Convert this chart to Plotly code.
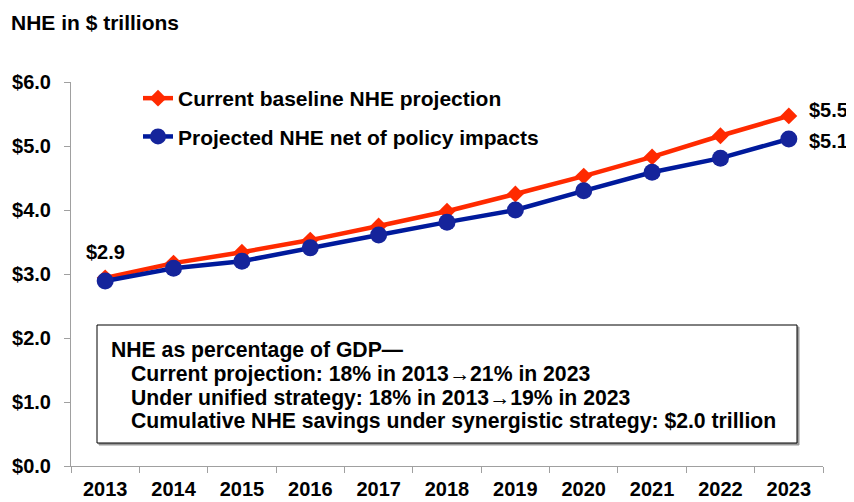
import plotly.graph_objects as go

years = ["2013", "2014", "2015", "2016", "2017", "2018", "2019", "2020", "2021", "2022", "2023"]
baseline = [2.94, 3.17, 3.34, 3.53, 3.75, 3.98, 4.25, 4.53, 4.83, 5.16, 5.47]
net_policy = [2.89, 3.09, 3.20, 3.41, 3.61, 3.81, 4.00, 4.30, 4.59, 4.81, 5.11]
y_ticks = [0, 1, 2, 3, 4, 5, 6]
y_tick_labels = ["$0.0", "$1.0", "$2.0", "$3.0", "$4.0", "$5.0", "$6.0"]
label_start = "$2.9"
label_end_base = "$5.5"
label_end_net = "$5.1"
box_lines = [
    "NHE as percentage of GDP—",
    "Current projection: 18% in 2013→21% in 2023",
    "Under unified strategy: 18% in 2013→19% in 2023",
    "Cumulative NHE savings under synergistic strategy: $2.0 trillion",
]

FONT = "Liberation Sans, Arial, sans-serif"
RED = "#FF2A00"
BLUE = "#001A9C"

# page-pixel helpers (plot area on page: x 71..823, y 82..466)
PX0, PX1, PY0, PY1 = 71, 823, 82, 466
def px(x):
    return (x - PX0) / (PX1 - PX0)
def py(y):
    return (PY1 - y) / (PY1 - PY0)

fig = go.Figure()
fig.add_trace(go.Scatter(
    x=years, y=baseline, mode="lines+markers", name="<b>Current baseline NHE projection</b>",
    legendgroup="a",
    line=dict(color=RED, width=4.5),
    marker=dict(symbol="diamond", size=13, color=RED),
))
fig.add_trace(go.Scatter(
    x=years, y=net_policy, mode="lines+markers", name="<b>Projected NHE net of policy impacts</b>",
    legendgroup="b",
    line=dict(color=BLUE, width=4.5),
    marker=dict(symbol="circle", size=17, color="#15249B"),
))

lab_font = dict(family=FONT, size=20, color="black")
annotations = [
    dict(x=0, y=baseline[0], xref="x", yref="y", text="<b>" + label_start + "</b>", showarrow=False,
         xshift=0, yshift=26, font=lab_font),
    dict(x=len(years) - 1, y=baseline[-1], xref="x", yref="y", text="<b>" + label_end_base + "</b>",
         showarrow=False, xshift=40, yshift=6, font=lab_font),
    dict(x=len(years) - 1, y=net_policy[-1], xref="x", yref="y", text="<b>" + label_end_net + "</b>",
         showarrow=False, xshift=40, yshift=-2, font=lab_font),
    dict(x=px(9), y=py(22), xref="paper", yref="paper", text="<b>NHE in $ trillions</b>",
         showarrow=False, xanchor="left", yanchor="middle",
         font=dict(family=FONT, size=21, color="black")),
]

line_y = [350, 374, 398, 421]
line_x = [109, 129, 129, 129]
for txt, lx, ly in zip(box_lines, line_x, line_y):
    annotations.append(dict(
        x=px(lx), y=py(ly), xref="paper", yref="paper",
        text="<b>" + txt + "</b>", showarrow=False, xanchor="left", yanchor="middle",
        font=dict(family=FONT, size=21.2, color="black"),
    ))

fig.update_layout(
    width=846, height=494,
    margin=dict(l=63, r=31, t=74, b=36),
    paper_bgcolor="white", plot_bgcolor="white",
    font=dict(family=FONT, size=20, color="black"),
    showlegend=True,
    legend=dict(x=px(138), y=py(78), xanchor="left", yanchor="top", bgcolor="rgba(0,0,0,0)",
                font=dict(family=FONT, size=21, color="black"), itemwidth=30,
                tracegroupgap=8),
    annotations=annotations,
    shapes=[
        dict(type="rect", xref="paper", yref="paper",
             x0=px(99), x1=px(799), y0=py(445), y1=py(327),
             line=dict(color="#9a9a9a", width=1), fillcolor="#9a9a9a", layer="above"),
        dict(type="rect", xref="paper", yref="paper",
             x0=px(97), x1=px(797), y0=py(443), y1=py(325),
             line=dict(color="black", width=1), fillcolor="white", layer="above"),
    ],
    xaxis=dict(
        type="category", tickson="boundaries", ticks="outside", ticklen=6,
        tickcolor="#A0A0A0", showline=True, linecolor="#A0A0A0", linewidth=1,
        showgrid=False, tickfont=dict(family=FONT, size=20, color="black"),
        tickprefix="<b>", ticksuffix="</b>", ticklabelstandoff=5,
        range=[-0.5, 10.5], automargin=False,
    ),
    yaxis=dict(
        range=[0, 6], tickvals=y_ticks, ticktext=["<b>" + t + "</b>" for t in y_tick_labels],
        ticks="outside", ticklen=6, tickcolor="#A0A0A0", showline=True,
        linecolor="#A0A0A0", linewidth=1, showgrid=False, zeroline=False,
        tickfont=dict(family=FONT, size=20, color="black"), ticklabelstandoff=9,
        automargin=False,
    ),
)

fig.write_html("out.html")
